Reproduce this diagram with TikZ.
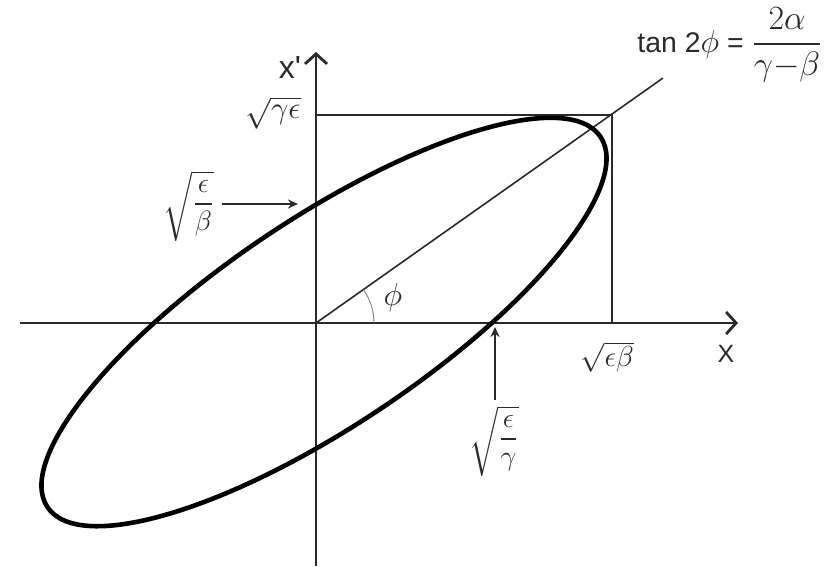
\RequirePackage{fix-cm}
\documentclass[tikz,border=0pt]{standalone}
\usepackage{amsmath}
\usepackage{fontspec}
\setmainfont{Liberation Sans}
\usetikzlibrary{arrows.meta}
\definecolor{ink}{HTML}{2a2a2a}
\newcommand{\fsz}[1]{\fontsize{#1}{#1}\selectfont}
\tikzset{
  axis/.style={line width=1.4pt, draw=ink, -{Straight Barb[length=5pt,width=11pt,line width=1.4pt]}},
  thin/.style={line width=0.8pt, draw=ink},
  lblarrow/.style={line width=0.9pt, draw=ink, -{Stealth[length=5pt,width=4.5pt]}},
  orbit/.style={line width=2.3pt, draw=black},
  lbl/.style={inner sep=0pt, text=ink, font=\fsz{12.5}},
}
\begin{document}
\begin{tikzpicture}[x=0.5pt,y=-0.5pt]
\useasboundingbox (0,0) rectangle (838,566);
% coordinates
\coordinate (O) at (316,323);
\coordinate (xl) at (20,323);
\coordinate (xr) at (738,323);
\coordinate (yb) at (316,566);
\coordinate (yt) at (316,52);
\coordinate (C) at (612,115);
\coordinate (Cy) at (316,115);
\coordinate (Cx) at (612,323);
\coordinate (T) at (663,78);
\coordinate (E) at (324,322);
\coordinate (pb) at (298,204);
\coordinate (pg) at (495,327);
\coordinate (lbs) at (222,204);
\coordinate (lgs) at (495,400);
% box and tan line
\draw[thin] (Cy) -- (C) -- (Cx);
\draw[thin] (O) -- (T);
% axes
\draw[axis] (xl) -- (xr);
\draw[axis] (yb) -- (yt);
% angle arc
\draw[line width=0.45pt, draw=gray] (O) ++(29pt,0pt) arc[start angle=0, end angle=35, radius=29pt];
% ellipse
\draw[orbit, rotate around={33.8:(E)}] (E) ellipse [x radius=166.4pt, y radius=51.8pt];
% labels
\node[lbl, font=\fsz{14.2}] (tan) at (730,45) {tan 2{\fsz{16}$\phi$} = {\fsz{17}$\dfrac{2\alpha}{\gamma{-}\beta}$}};
\node[lbl, font=\fsz{16}] (xp) at (290,67) {x\textquotesingle};
\node[lbl] (X) at (726,354) {X};
\node[lbl, font=\fsz{16}] (phi) at (393,297) {$\phi$};
\node[lbl, font=\fsz{15.5}] (sge) at (273,113) {$\sqrt{\gamma\epsilon}$};
\node[lbl, font=\fsz{14.5}] (seb) at (607,357) {$\sqrt{\epsilon\beta}$};
\node[lbl, font=\fsz{14}] (lb) at (189,206) {$\sqrt{\dfrac{\epsilon}{\beta}}$};
\node[lbl, font=\fsz{14}] (lg) at (494,441) {$\sqrt{\dfrac{\epsilon}{\gamma}}$};
% label arrows
\draw[lblarrow] (lbs) -- (pb);
\draw[lblarrow] (lgs) -- (pg);
\end{tikzpicture}
\end{document}
